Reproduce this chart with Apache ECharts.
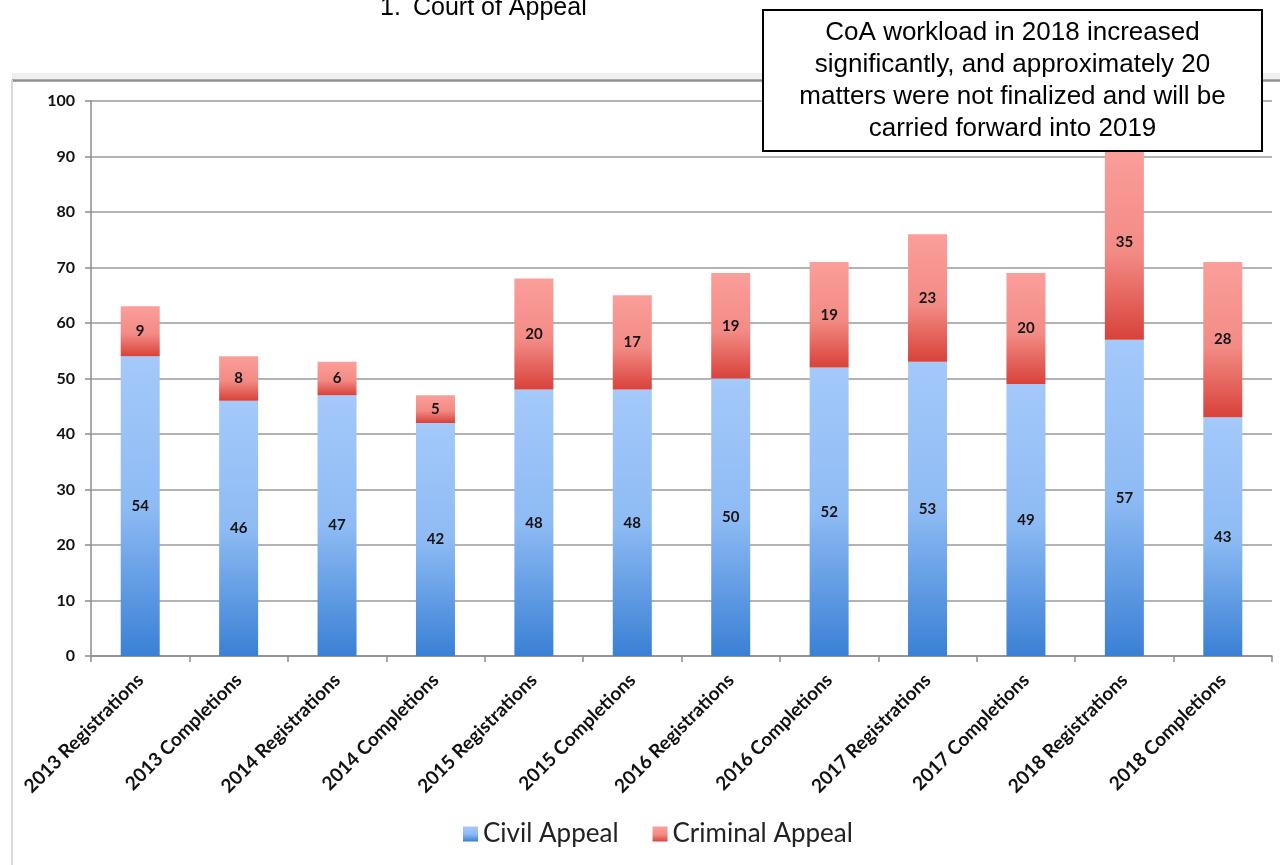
<!DOCTYPE html>
<html>
<head>
<meta charset="utf-8">
<script src="https://cdn.jsdelivr.net/npm/echarts@6/dist/echarts.min.js"></script>
<style>
html,body{margin:0;padding:0;background:#fff;}
#chart{width:1280px;height:865px;}
</style>
</head>
<body>
<div id="chart"></div>
<script>
const categories = ['2013 Registrations','2013 Completions','2014 Registrations','2014 Completions','2015 Registrations','2015 Completions','2016 Registrations','2016 Completions','2017 Registrations','2017 Completions','2018 Registrations','2018 Completions'];
const civilAppeal = [54,46,47,42,48,48,50,52,53,49,57,43];
const criminalAppeal = [9,8,6,5,20,17,19,19,23,20,35,28];
const seriesNames = ['Civil Appeal','Criminal Appeal'];
const titleNumber = '1.';
const titleText = 'Court of Appeal';
const noteText = 'CoA workload in 2018 increased\nsignificantly, and approximately 20\nmatters were not finalized and will be\ncarried forward into 2019';

const chart = echarts.init(document.getElementById('chart'), null, {renderer:'canvas'});
const blueGrad = new echarts.graphic.LinearGradient(0,0,0,1,[
  {offset:0,color:'#a4c9fa'},{offset:0.5,color:'#8ebbf4'},{offset:1,color:'#3a80d5'}]);
const redGrad = new echarts.graphic.LinearGradient(0,0,0,1,[
  {offset:0,color:'#fb9e9a'},{offset:0.55,color:'#f38b85'},{offset:1,color:'#d8423a'}]);
const labelStyle = {show:true,position:'inside',fontFamily:'Lato',fontWeight:'bold',fontSize:15,color:'#141414'};

chart.setOption({
  backgroundColor:'#ffffff',
  animation:false,
  grid:{left:91,right:8,top:101,bottom:209,containLabel:false},
  legend:{
    data:seriesNames, left:458, top:816, icon:'rect', itemWidth:15, itemHeight:15, itemGap:34,
    textStyle:{fontFamily:'Lato',fontSize:26,color:'#222'}
  },
  xAxis:{
    type:'category', data:categories,
    axisLine:{lineStyle:{color:'#8c8c8c',width:1.5}},
    axisTick:{show:true,length:6,lineStyle:{color:'#8c8c8c',width:1.5}},
    axisLabel:{interval:0,rotate:45,margin:21,fontFamily:'Lato',fontWeight:'bold',fontSize:19,color:'#111'}
  },
  yAxis:{
    type:'value', min:0, max:100, interval:10,
    axisLine:{show:true,lineStyle:{color:'#8c8c8c',width:1.5}},
    axisTick:{show:true,length:6,lineStyle:{color:'#8c8c8c',width:1.5}},
    splitLine:{lineStyle:{color:'#9a9a9a',width:1.5}},
    axisLabel:{margin:16,fontFamily:'Lato',fontWeight:'bold',fontSize:16,color:'#111'}
  },
  series:[
    {name:seriesNames[0],type:'bar',stack:'total',barWidth:39,data:civilAppeal,
     itemStyle:{color:blueGrad},label:labelStyle},
    {name:seriesNames[1],type:'bar',stack:'total',barWidth:39,data:criminalAppeal,
     itemStyle:{color:redGrad},label:labelStyle}
  ],
  graphic:[
    {type:'rect',z:-10,shape:{x:12,y:73,width:1268,height:6},style:{fill:'#efefef'}},
    {type:'line',z:-10,shape:{x1:12,y1:80.5,x2:1280,y2:80.5},style:{stroke:'#8f8f8f',lineWidth:2.5}},
    {type:'line',z:-10,shape:{x1:12,y1:80,x2:12,y2:865},style:{stroke:'#d9d9d9',lineWidth:2}},
    {type:'text',z:100,left:380,top:-4,style:{text:titleNumber,font:'25px "Liberation Sans", Arial',fill:'#000'}},
    {type:'text',z:100,left:413,top:-4,style:{text:titleText,font:'25px "Liberation Sans", Arial',fill:'#000'}},
    {type:'rect',z:100,shape:{x:763,y:10,width:499,height:141},style:{fill:'#fff',stroke:'#000',lineWidth:2}},
    {type:'text',z:101,x:1012.5,y:81,style:{text:noteText,font:'26px "Liberation Sans", Arial',fill:'#000',
      textAlign:'center',textVerticalAlign:'middle',lineHeight:32}}
  ]
});
</script>
</body>
</html>
